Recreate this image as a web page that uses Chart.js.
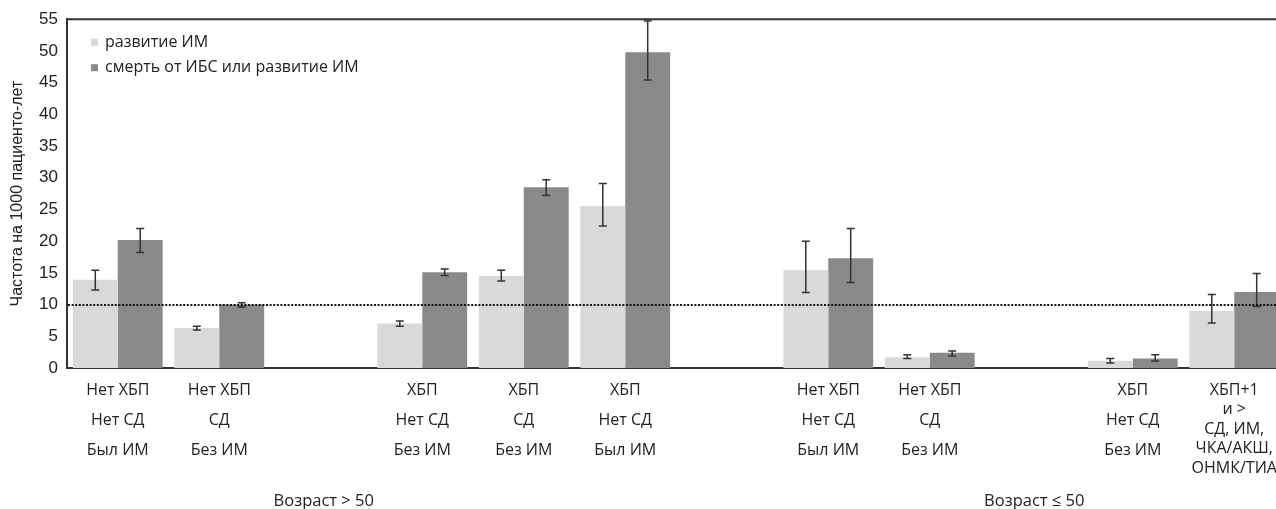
<!DOCTYPE html>
<html><head><meta charset="utf-8">
<script src="https://cdn.jsdelivr.net/npm/chart.js@4"></script>
<style>html,body{margin:0;padding:0;background:#fff;overflow:hidden}#wrap{width:1286px;height:509px}</style>
</head><body><div id="wrap"><canvas id="c" width="1286" height="509"></canvas></div>
<script>
// ---- data ----
const categories = [
  ['Нет ХБП','Нет СД','Был ИМ'],
  ['Нет ХБП','СД','Без ИМ'],
  '',
  ['ХБП','Нет СД','Без ИМ'],
  ['ХБП','СД','Без ИМ'],
  ['ХБП','Нет СД','Был ИМ'],
  '',
  ['Нет ХБП','Нет СД','Был ИМ'],
  ['Нет ХБП','СД','Без ИМ'],
  '',
  ['ХБП','Нет СД','Без ИМ'],
  ['ХБП+1','и >','СД, ИМ,','ЧКА/АКШ,','ОНМК/ТИА']
];
const seriesNames = ['развитие ИМ', 'смерть от ИБС или развитие ИМ'];
const miValues    = [13.9, 6.3, null, 7.0, 14.5, 25.5, null, 15.4, 1.7, null, 1.15, 9.0];
const miLow       = [12.3, 6.0, null, 6.6, 13.7, 22.4, null, 11.9, 1.5, null, 0.8, 7.1];
const miHigh      = [15.4, 6.6, null, 7.4, 15.4, 29.1, null, 20.0, 2.1, null, 1.5, 11.6];
const deathValues = [20.2, 10.0, null, 15.1, 28.5, 49.8, null, 17.3, 2.4, null, 1.5, 12.0];
const deathLow    = [18.2, 9.6, null, 14.6, 27.2, 45.4, null, 13.5, 1.9, null, 1.1, 9.7];
const deathHigh   = [22.0, 10.3, null, 15.6, 29.7, 54.7, null, 22.0, 2.7, null, 2.1, 14.9];
const groupLabels = ['Возраст > 50', 'Возраст ≤ 50'];
const groupAt     = [2, 9];
const refLine = 10;
const yMin = 0, yMax = 55, yStep = 5;
const yTitle = 'Частота на 1000 пациенто-лет';

// ---- layout / style ----
const LEFT = 67, TOP = 19, BOTTOM = 368, H = 509;
const TXT = '#222';
const LABEL_FONT = '16px "Open Sans"';
const errLow = [miLow, deathLow], errHigh = [miHigh, deathHigh];

const extras = {
  id: 'extras',
  afterDatasetsDraw(chart) {
    const ctx = chart.ctx, y = chart.scales.y, area = chart.chartArea;
    ctx.save();
    // error bars
    ctx.strokeStyle = '#333';
    ctx.lineWidth = 1.5;
    chart.data.datasets.forEach((ds, di) => {
      const meta = chart.getDatasetMeta(di);
      meta.data.forEach((bar, i) => {
        if (ds.data[i] == null) return;
        const yl = y.getPixelForValue(errLow[di][i]);
        const yh = y.getPixelForValue(errHigh[di][i]);
        const x = bar.x;
        ctx.beginPath();
        ctx.moveTo(x, yl); ctx.lineTo(x, yh);
        ctx.moveTo(x - 4, yl); ctx.lineTo(x + 4, yl);
        ctx.moveTo(x - 4, yh); ctx.lineTo(x + 4, yh);
        ctx.stroke();
      });
    });
    // dotted reference line
    const yr = Math.round(y.getPixelForValue(refLine));
    ctx.strokeStyle = '#111';
    ctx.lineWidth = 2;
    ctx.setLineDash([2, 1.6]);
    ctx.beginPath();
    ctx.moveTo(area.left + 1, yr); ctx.lineTo(area.right, yr);
    ctx.stroke();
    ctx.restore();
  },
  afterDraw(chart) {
    const ctx = chart.ctx, x = chart.scales.x, area = chart.chartArea;
    ctx.save();
    // top border
    ctx.strokeStyle = '#333';
    ctx.lineWidth = 2;
    ctx.beginPath();
    ctx.moveTo(area.left - 1, area.top); ctx.lineTo(area.right, area.top);
    ctx.stroke();
    // category labels
    ctx.fillStyle = TXT;
    ctx.font = LABEL_FONT;
    ctx.textAlign = 'center';
    ctx.textBaseline = 'middle';
    chart.data.labels.forEach((lab, i) => {
      if (!lab) return;
      const lines = Array.isArray(lab) ? lab : [lab];
      const cx = x.getPixelForValue(i);
      const lh = lines.length > 3 ? 19.5 : 30;
      lines.forEach((t, k) => ctx.fillText(t, cx, area.bottom + 22 + k * lh));
    });
    // group labels
    ctx.font = '16.5px "Open Sans"';
    groupLabels.forEach((g, k) => {
      ctx.fillText(g, x.getPixelForValue(groupAt[k]) + 3, area.bottom + 133);
    });
    // legend
    ctx.font = '16px "Open Sans"';
    ctx.textAlign = 'left';
    chart.data.datasets.forEach((ds, di) => {
      const cy = area.top + 23 + di * 25.5;
      ctx.fillStyle = ds.backgroundColor;
      ctx.fillRect(area.left + 24, cy - 3.5, 7, 7);
      ctx.fillStyle = TXT;
      ctx.fillText(ds.label, area.left + 38, cy);
    });
    ctx.restore();
  }
};

new Chart(document.getElementById('c'), {
  type: 'bar',
  data: {
    labels: categories,
    datasets: [
      { label: seriesNames[0], data: miValues, backgroundColor: '#d9d9d9' },
      { label: seriesNames[1], data: deathValues, backgroundColor: '#8a8a8a' }
    ]
  },
  options: {
    responsive: false,
    animation: false,
    layout: { padding: { top: TOP, right: 1, left: 0, bottom: 0 } },
    datasets: { bar: { categoryPercentage: 0.885, barPercentage: 1.0, borderWidth: 0 } },
    plugins: { legend: { display: false }, tooltip: { enabled: false } },
    scales: {
      x: {
        grid: { display: false, drawTicks: false },
        border: { display: true, color: '#333', width: 2 },
        ticks: { display: false },
        afterFit(s) { s.height = H - BOTTOM; }
      },
      y: {
        min: yMin, max: yMax,
        grid: { display: false, drawTicks: false },
        border: { display: true, color: '#333', width: 2 },
        ticks: { stepSize: yStep, padding: 9, color: TXT, font: { family: '"Liberation Sans", Arial', size: 17 } },
        title: { display: true, text: yTitle, color: TXT, font: { family: '"Liberation Sans", Arial', size: 16 }, padding: { top: 8, bottom: 0 } },
        afterFit(s) { s.width = LEFT; }
      }
    }
  },
  plugins: [extras]
});
</script>
</body></html>
